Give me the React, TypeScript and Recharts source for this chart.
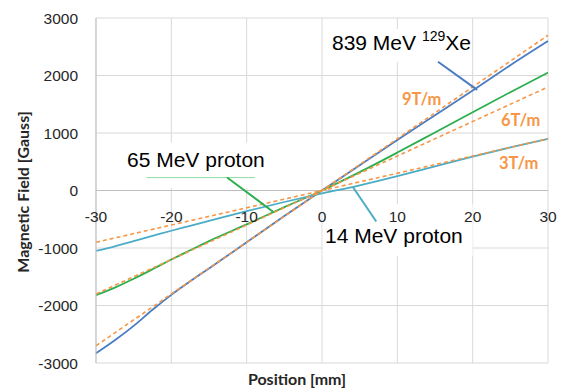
import {
  CartesianGrid,
  Line,
  LineChart,
  ReferenceArea,
  ReferenceLine,
  XAxis,
  YAxis,
} from "recharts"

// position along the magnet [mm] and measured field [Gauss]
const positions = [-30, -27.5, -25, -22.5, -20, -17.5, -15, -10, -5, 0, 5, 10, 15, 20, 25, 30]
const xe839 = [-2830, -2605, -2355, -2075, -1815, -1580, -1355, -900, -445, 0, 440, 880, 1310, 1740, 2180, 2600]
const proton65 = [-1820, -1690, -1535, -1370, -1200, -1040, -880, -590, -290, 0, 320, 660, 1010, 1360, 1710, 2050]
const proton14 = [-1050, -970, -880, -790, -700, -615, -530, -360, -200, -50, 90, 250, 420, 590, 750, 900]

// gradient reference lines (end points)
const gradEnds = [-30, 30]
const grad9 = [-2700, 2700]
const grad6 = [-1800, 1800]
const grad3 = [-900, 900]

const xTicks = [-30, -20, -10, 0, 10, 20, 30]
const yTicks = [-3000, -2000, -1000, 0, 1000, 2000, 3000]
const xMinor = [-30, -28, -26, -24, -22, -20, -18, -16, -14, -12, -10, -8, -6, -4, -2, 0, 2, 4, 6, 8, 10, 12, 14, 16, 18, 20, 22, 24, 26, 28, 30]
const yMinor = [-3000, -2800, -2600, -2400, -2200, -2000, -1800, -1600, -1400, -1200, -1000, -800, -600, -400, -200, 0, 200, 400, 600, 800, 1000, 1200, 1400, 1600, 1800, 2000, 2200, 2400, 2600, 2800, 3000]

// annotation leaders, in data units
const xeLeader = [{ x: 15.4, y: 2240 }, { x: 20.6, y: 1750 }]
const p65Under = [{ x: -23.3, y: 225 }, { x: -8.9, y: 225 }]
const p65Leader = [{ x: -12.6, y: 225 }, { x: -6.5, y: -370 }]
const p14Leader = [{ x: 4.1, y: 61 }, { x: 7.2, y: -540 }]

const data = positions.map((x, i) => ({
  x,
  xe: xe839[i],
  p65: proton65[i],
  p14: proton14[i],
}))
const gradData = gradEnds.map((x, i) => ({ x, g9: grad9[i], g6: grad6[i], g3: grad3[i] }))

const W = 561
const H = 391
const TOP = 18
const BOTTOM = 363
const LEFT = 96
const ZERO_Y = (TOP + BOTTOM) / 2

const ORANGE = "#F79646"
const tickFont = "'Liberation Sans', Arial, sans-serif"
const titleFont = "Lato, sans-serif"

const XTick = ({ x, payload }: any) => (
  <text x={x} y={ZERO_Y + 31} textAnchor="middle" fontSize={15.5} fontFamily={tickFont} fill="#262626">
    {payload.value}
  </text>
)

const XMinorTick = ({ x }: any) => (
  <line x1={x} x2={x} y1={ZERO_Y - 4} y2={ZERO_Y} stroke="#bfbfbf" />
)

const YMinorTick = ({ y }: any) => (
  <line x1={LEFT} x2={LEFT + 4} y1={y} y2={y} stroke="#bfbfbf" />
)

export default function App() {
  return (
    <div style={{ position: "absolute", left: 0, top: 0, width: W, height: H, background: "#fff" }}>
      <LineChart width={W} height={H} margin={{ top: TOP, right: W - 548, bottom: H - BOTTOM - 2, left: 0 }}>
        <CartesianGrid stroke="#d9d9d9" />
        <XAxis
          dataKey="x"
          type="number"
          domain={[-30, 30]}
          ticks={xTicks}
          height={1}
          axisLine={false}
          tickLine={false}
          tick={<XTick />}
          interval={0}
        />
        <XAxis
          xAxisId="minor"
          type="number"
          domain={[-30, 30]}
          ticks={xMinor}
          height={1}
          axisLine={false}
          tickLine={false}
          tick={<XMinorTick />}
          interval={0}
        />
        <YAxis
          type="number"
          domain={[-3000, 3000]}
          ticks={yTicks}
          width={LEFT - 1}
          axisLine={{ stroke: "#bfbfbf" }}
          tickLine={false}
          tickSize={0}
          tickMargin={18}
          tick={{ fontSize: 15.5, fontFamily: tickFont, fill: "#262626" }}
          interval={0}
        />
        <YAxis
          yAxisId="minor"
          type="number"
          domain={[-3000, 3000]}
          ticks={yMinor}
          width={1}
          axisLine={false}
          tickLine={false}
          tick={<YMinorTick />}
          interval={0}
        />
        <ReferenceLine y={0} stroke="#bfbfbf" />
        <ReferenceArea x1={0.3} x2={19.6} y1={2235} y2={2810} fill="#fff" fillOpacity={1} stroke="none" />
        <ReferenceArea x1={-27} x2={-6.4} y1={45} y2={830} fill="#fff" fillOpacity={1} stroke="none" />
        <ReferenceArea x1={0.1} x2={20} y1={-1140} y2={-240} fill="#fff" fillOpacity={1} stroke="none" />

        <Line data={data} dataKey="xe" type="monotone" stroke="#4A7CC3" strokeWidth={1.8} dot={false} isAnimationActive={false} />
        <Line data={data} dataKey="p65" type="monotone" stroke="#2BAE4E" strokeWidth={1.8} dot={false} isAnimationActive={false} />
        <Line data={data} dataKey="p14" type="monotone" stroke="#4BACC6" strokeWidth={1.8} dot={false} isAnimationActive={false} />
        <Line data={gradData} dataKey="g9" type="linear" stroke={ORANGE} strokeWidth={1.6} strokeDasharray="4 3" dot={false} isAnimationActive={false} />
        <Line data={gradData} dataKey="g6" type="linear" stroke={ORANGE} strokeWidth={1.6} strokeDasharray="4 3" dot={false} isAnimationActive={false} />
        <Line data={gradData} dataKey="g3" type="linear" stroke={ORANGE} strokeWidth={1.6} strokeDasharray="4 3" dot={false} isAnimationActive={false} />

        <ReferenceLine segment={xeLeader} stroke="#4A7CC3" strokeWidth={2} ifOverflow="visible" />
        <ReferenceLine segment={p65Under} stroke="#93DBA6" strokeWidth={1} ifOverflow="visible" />
        <ReferenceLine segment={p65Leader} stroke="#2BAE4E" strokeWidth={2} ifOverflow="visible" />
        <ReferenceLine segment={p14Leader} stroke="#4BACC6" strokeWidth={2} ifOverflow="visible" />
      </LineChart>
      <svg width={W} height={H} style={{ position: "absolute", left: 0, top: 0, pointerEvents: "none" }}>
        <g fontFamily={tickFont} fill="#000">
          <text x={332} y={50} fontSize={21}>
            839 MeV <tspan fontSize={14} dy={-9}>129</tspan>
            <tspan dy={9}>Xe</tspan>
          </text>
          <text x={127} y={167} fontSize={21}>65 MeV proton</text>
          <text x={325} y={243} fontSize={21}>14 MeV proton</text>
        </g>
        <g fontFamily={titleFont} fontWeight="bold" fill={ORANGE} fontSize={16.5}>
          <text x={402} y={105}>9T/m</text>
          <text x={501} y={126}>6T/m</text>
          <text x={499} y={169}>3T/m</text>
        </g>
        <g fontFamily={titleFont} fontWeight="bold" fill="#262626" fontSize={16}>
          <text x={297} y={385} textAnchor="middle">Position [mm]</text>
          <text x={-192} y={29} transform="rotate(-90)" textAnchor="middle">Magnetic Field [Gauss]</text>
        </g>
      </svg>
    </div>
  )
}
